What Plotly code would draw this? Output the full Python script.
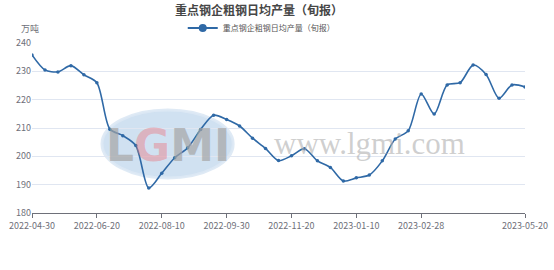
import plotly.graph_objects as go

dates = [
    "2022-04-30", "2022-05-10", "2022-05-20", "2022-05-31", "2022-06-10", "2022-06-20",
    "2022-06-30", "2022-07-10", "2022-07-20", "2022-07-31", "2022-08-10", "2022-08-20",
    "2022-08-31", "2022-09-10", "2022-09-20", "2022-09-30", "2022-10-10", "2022-10-20",
    "2022-10-31", "2022-11-10", "2022-11-20", "2022-11-30", "2022-12-10", "2022-12-20",
    "2022-12-31", "2023-01-10", "2023-01-20", "2023-01-31", "2023-02-10", "2023-02-20",
    "2023-02-28", "2023-03-10", "2023-03-20", "2023-03-31", "2023-04-10", "2023-04-20",
    "2023-04-30", "2023-05-10", "2023-05-20",
]
values = [
    235.8, 230.5, 229.8, 232.0, 228.8, 226.0,
    209.6, 207.3, 203.8, 188.8, 194.0, 199.5,
    203.0, 209.5, 214.5, 213.0, 210.7, 206.4,
    202.8, 198.5, 200.2, 202.7, 198.4, 196.1,
    191.3, 192.4, 193.4, 198.4, 206.1, 209.0,
    222.0, 214.9, 225.2, 226.0, 232.2, 228.9,
    220.5, 225.2, 224.5,
]
tick_labels = ["2022-04-30", "2022-06-20", "2022-08-10", "2022-09-30",
               "2022-11-20", "2023-01-10", "2023-02-28", "2023-05-20"]
y_ticks = [180, 190, 200, 210, 220, 230, 240]
series_name = "重点钢企粗钢日均产量（旬报）"
title_text = "重点钢企粗钢日均产量（旬报）"
unit_text = "万吨"

FONT = "Noto Sans CJK SC"
LINE = "#2F69A6"

fig = go.Figure()
fig.add_trace(go.Scatter(
    x=dates, y=values, mode="lines+markers", name=series_name, showlegend=False,
    line=dict(color=LINE, width=1.6, shape="spline", smoothing=0.8),
    marker=dict(size=3.5, color=LINE),
))
# legend-only entry with larger symbol
fig.add_trace(go.Scatter(
    x=[None], y=[None], mode="lines+markers", name=series_name, showlegend=True,
    line=dict(color=LINE, width=2), marker=dict(size=8, color=LINE),
))

# watermark
fig.add_shape(type="circle", xref="paper", yref="paper",
              x0=0.142, x1=0.408, y0=0.206, y1=0.606,
              fillcolor="rgba(170,200,230,0.55)", line=dict(color="rgba(220,232,244,0.9)", width=3),
              layer="below")
fig.add_annotation(xref="paper", yref="paper", x=0.275, y=0.40, xanchor="center", yanchor="middle",
                   text="<b>L<span style='color:rgba(235,120,130,0.65)'>G</span>MI</b>",
                   showarrow=False, font=dict(family="DejaVu Sans", size=44, color="rgba(165,165,165,0.7)"))
fig.add_annotation(xref="paper", yref="paper", x=0.685, y=0.41, xanchor="center", yanchor="middle",
                   text="www.lgmi.com", showarrow=False,
                   font=dict(family="Liberation Serif", size=31, color="rgba(175,175,175,0.6)"))

fig.update_layout(
    width=554, height=270,
    margin=dict(l=32, r=29, t=43, b=57, autoexpand=False),
    paper_bgcolor="white", plot_bgcolor="white",
    font=dict(family=FONT, size=9, color="#6E7079"),
    title=dict(text="<b>" + title_text + "</b>", x=0.4675, xanchor="center", y=0.959, yanchor="middle",
               font=dict(family=FONT, size=12, color="#464646")),
    showlegend=True,
    legend=dict(orientation="h", x=0.465, xanchor="center", y=1.088, yanchor="middle",
                font=dict(family=FONT, size=8, color="#555"), itemwidth=30,
                bgcolor="rgba(0,0,0,0)"),
    xaxis=dict(type="category", range=[0, len(dates) - 1],
               tickmode="array", tickvals=tick_labels, ticktext=tick_labels,
               ticks="outside", ticklen=4, tickcolor="#6E7079",
               showline=True, linecolor="#6E7079", linewidth=1,
               showgrid=False, tickfont=dict(size=9, color="#6E7079")),
    yaxis=dict(range=[180, 240], tickvals=y_ticks, showgrid=True, gridcolor="#E0E6F1",
               zeroline=False, showline=False, ticks="", tickfont=dict(size=9, color="#6E7079")),
)
fig.add_annotation(xref="paper", yref="paper", x=-0.004, y=1.088, xanchor="center", yanchor="middle",
                   text=unit_text, showarrow=False, font=dict(family=FONT, size=9, color="#6E7079"))

fig.write_html("out.html")
